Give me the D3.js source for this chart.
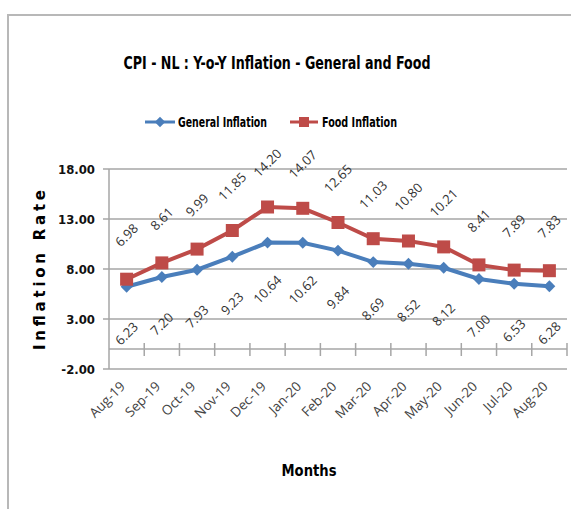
<!DOCTYPE html>
<html>
<head>
<meta charset="utf-8">
<script src="https://cdn.jsdelivr.net/npm/d3@7"></script>
<style>
  body { margin: 0; background: #fff; }
</style>
</head>
<body>
<script>
const width = 571;
const height = 509;

const months = ["Aug-19", "Sep-19", "Oct-19", "Nov-19", "Dec-19", "Jan-20", "Feb-20",
                "Mar-20", "Apr-20", "May-20", "Jun-20", "Jul-20", "Aug-20"];
const generalInflation = [6.23, 7.20, 7.93, 9.23, 10.64, 10.62, 9.84, 8.69, 8.52, 8.12, 7.00, 6.53, 6.28];
const foodInflation = [6.98, 8.61, 9.99, 11.85, 14.20, 14.07, 12.65, 11.03, 10.80, 10.21, 8.41, 7.89, 7.83];
const yTicks = [-2, 3, 8, 13, 18];

const blue = "#4a7ebb";
const red = "#be4b48";
const narrow = "'Liberation Sans Narrow', 'DejaVu Sans Condensed', 'Roboto', sans-serif";

const svg = d3.select("body").append("svg")
  .attr("width", width)
  .attr("height", height);

// chart frame
svg.append("rect")
  .attr("x", 8).attr("y", 15)
  .attr("width", 620).attr("height", 600)
  .attr("fill", "none")
  .attr("stroke", "#b8b8b8")
  .attr("stroke-width", 2);

const x = d3.scaleBand()
  .domain(months)
  .range([109, 567]);

const y = d3.scaleLinear()
  .domain([-2, 18])
  .range([369, 169]);

// gridlines
svg.append("g")
  .selectAll("line")
  .data(yTicks)
  .enter().append("line")
  .attr("x1", 103)
  .attr("x2", 567)
  .attr("y1", d => y(d))
  .attr("y2", d => y(d))
  .attr("stroke", "#a6a6a6")
  .attr("stroke-width", 1.5);

// y axis line
svg.append("line")
  .attr("x1", 109).attr("x2", 109)
  .attr("y1", y(18)).attr("y2", y(-2))
  .attr("stroke", "#a6a6a6")
  .attr("stroke-width", 1.5);

// y tick labels
svg.append("g")
  .selectAll("text")
  .data(yTicks)
  .enter().append("text")
  .attr("x", 95)
  .attr("y", d => y(d))
  .attr("dy", "0.35em")
  .attr("text-anchor", "end")
  .style("font-family", narrow)
  .style("font-weight", "bold")
  .style("font-size", "13px")
  .style("fill", "#111")
  .text(d => d.toFixed(2));

// x axis at zero, with tick marks between categories
const xAxis = svg.append("g");
xAxis.append("line")
  .attr("x1", 109).attr("x2", 567)
  .attr("y1", y(0)).attr("y2", y(0))
  .attr("stroke", "#a6a6a6")
  .attr("stroke-width", 1.5);
xAxis.selectAll("line.tick")
  .data(months.slice(1).concat(["end"]))
  .enter().append("line")
  .attr("class", "tick")
  .attr("x1", (d, i) => x.range()[0] + x.step() * (i + 1))
  .attr("x2", (d, i) => x.range()[0] + x.step() * (i + 1))
  .attr("y1", y(0) - 6)
  .attr("y2", y(0) + 7)
  .attr("stroke", "#a6a6a6")
  .attr("stroke-width", 1.5);

// x tick labels
svg.append("g")
  .selectAll("text")
  .data(months)
  .enter().append("text")
  .attr("transform", d => `translate(${x(d) + x.bandwidth() / 2 - 4},384) rotate(-45)`)
  .attr("text-anchor", "end")
  .attr("dy", "0.35em")
  .style("font-family", "'Open Sans', 'Liberation Sans', sans-serif")
  .style("font-size", "13.5px")
  .style("fill", "#444")
  .text(d => d);

const cx = d => x(d) + x.bandwidth() / 2;

const line = d3.line()
  .x(d => cx(d[0]))
  .y(d => y(d[1]));

const generalPts = months.map((m, i) => [m, generalInflation[i]]);
const foodPts = months.map((m, i) => [m, foodInflation[i]]);

svg.append("path")
  .datum(generalPts)
  .attr("d", line)
  .attr("fill", "none")
  .attr("stroke", blue)
  .attr("stroke-width", 4);

svg.append("path")
  .datum(foodPts)
  .attr("d", line)
  .attr("fill", "none")
  .attr("stroke", red)
  .attr("stroke-width", 4);

svg.selectAll("path.diamond")
  .data(generalPts)
  .enter().append("path")
  .attr("class", "diamond")
  .attr("d", d3.symbol(d3.symbolDiamond2, 90))
  .attr("transform", d => `translate(${cx(d[0])},${y(d[1])})`)
  .attr("fill", blue);

svg.selectAll("rect.square")
  .data(foodPts)
  .enter().append("rect")
  .attr("class", "square")
  .attr("x", d => cx(d[0]) - 6.5)
  .attr("y", d => y(d[1]) - 6.5)
  .attr("width", 13)
  .attr("height", 13)
  .attr("fill", red);

// data labels
const labelStyle = sel => sel
  .attr("text-anchor", "middle")
  .attr("dy", "0.35em")
  .style("font-family", "'Open Sans', 'Liberation Sans', sans-serif")
  .style("font-size", "13px")
  .style("fill", "#333");

svg.append("g")
  .selectAll("text")
  .data(foodPts)
  .enter().append("text")
  .attr("transform", d => `translate(${cx(d[0])},${y(d[1]) - 44}) rotate(-45)`)
  .call(labelStyle)
  .text(d => d[1].toFixed(2));

svg.append("g")
  .selectAll("text")
  .data(generalPts)
  .enter().append("text")
  .attr("transform", d => `translate(${cx(d[0])},${y(d[1]) + 47}) rotate(-45)`)
  .call(labelStyle)
  .text(d => d[1].toFixed(2));

// title
svg.append("text")
  .attr("x", 277)
  .attr("y", 63)
  .attr("dy", "0.35em")
  .attr("text-anchor", "middle")
  .attr("textLength", 307)
  .attr("lengthAdjust", "spacingAndGlyphs")
  .style("font-family", narrow)
  .style("font-weight", "bold")
  .style("font-size", "17px")
  .style("fill", "#000")
  .text("CPI - NL : Y-o-Y Inflation - General and Food");

// legend
const legend = svg.append("g");
legend.append("line")
  .attr("x1", 145).attr("x2", 175).attr("y1", 122).attr("y2", 122)
  .attr("stroke", blue).attr("stroke-width", 3);
legend.append("path")
  .attr("d", d3.symbol(d3.symbolDiamond2, 70))
  .attr("transform", "translate(160,122)")
  .attr("fill", blue);
legend.append("text")
  .attr("x", 178).attr("y", 122).attr("dy", "0.35em")
  .attr("textLength", 89)
  .attr("lengthAdjust", "spacingAndGlyphs")
  .style("font-family", narrow)
  .style("font-weight", "bold")
  .style("font-size", "14px")
  .text("General Inflation");

legend.append("line")
  .attr("x1", 290).attr("x2", 318).attr("y1", 122).attr("y2", 122)
  .attr("stroke", red).attr("stroke-width", 3);
legend.append("rect")
  .attr("x", 299).attr("y", 117).attr("width", 10).attr("height", 10)
  .attr("fill", red);
legend.append("text")
  .attr("x", 322).attr("y", 122).attr("dy", "0.35em")
  .attr("textLength", 75)
  .attr("lengthAdjust", "spacingAndGlyphs")
  .style("font-family", narrow)
  .style("font-weight", "bold")
  .style("font-size", "14px")
  .text("Food Inflation");

// axis titles
svg.append("text")
  .attr("transform", "translate(40,270) rotate(-90)")
  .attr("text-anchor", "middle")
  .attr("dy", "0.35em")
  .attr("textLength", 160)
  .attr("lengthAdjust", "spacing")
  .style("font-family", "'DejaVu Sans', sans-serif")
  .style("font-weight", "bold")
  .style("font-size", "15px")
  .style("fill", "#000")
  .text("Inflation Rate");

svg.append("text")
  .attr("x", 309)
  .attr("y", 471)
  .attr("dy", "0.35em")
  .attr("text-anchor", "middle")
  .attr("textLength", 55)
  .attr("lengthAdjust", "spacingAndGlyphs")
  .style("font-family", narrow)
  .style("font-weight", "bold")
  .style("font-size", "15px")
  .style("fill", "#000")
  .text("Months");
</script>
</body>
</html>
